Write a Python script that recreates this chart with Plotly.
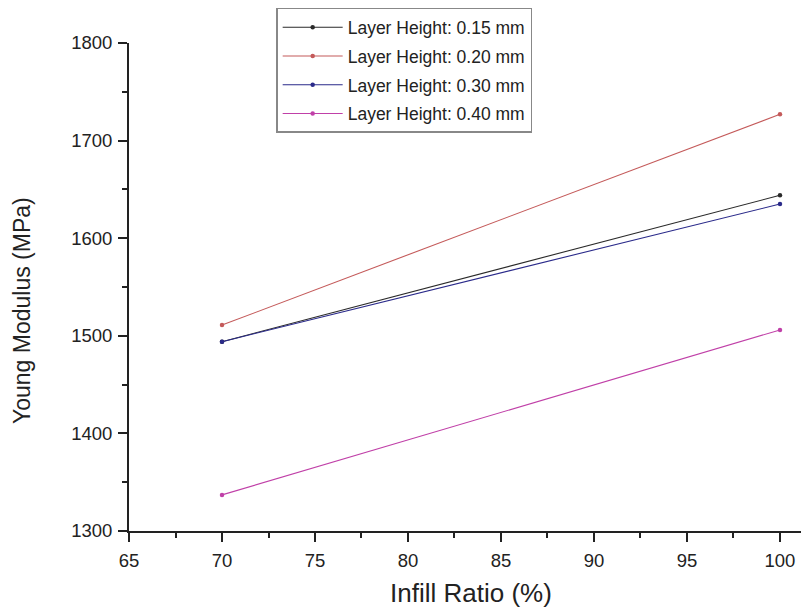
import plotly.graph_objects as go

infill = [70, 100]
series_names = ["Layer Height: 0.15 mm", "Layer Height: 0.20 mm",
                "Layer Height: 0.30 mm", "Layer Height: 0.40 mm"]
lh_015 = [1494, 1644]
lh_020 = [1511, 1727]
lh_030 = [1494, 1635]
lh_040 = [1337, 1506]
colors = ["#2a2a2a", "#c45a5a", "#2a2a8a", "#c040a8"]

FONT = "Liberation Sans, Arial"

fig = go.Figure()
for i, (name, vals, c) in enumerate(zip(series_names, [lh_015, lh_020, lh_030, lh_040], colors)):
    fig.add_trace(go.Scatter(
        x=infill, y=vals, name=name, mode="lines+markers", legendgroup=f"g{i}",
        line=dict(color=c, width=1.1),
        marker=dict(color=c, size=4.5, symbol="circle"),
    ))

axis_common = dict(
    showgrid=False, zeroline=False, showline=True, linecolor="#222222", linewidth=2,
    ticks="outside", ticklen=9, tickwidth=2, tickcolor="#222222",
    tickfont=dict(family=FONT, size=18.5, color="#222222"),
)
minor_common = dict(ticks="outside", ticklen=5, tickwidth=2, tickcolor="#222222")

fig.update_layout(
    width=801, height=612,
    margin=dict(l=129, r=0, t=43, b=81),
    paper_bgcolor="white", plot_bgcolor="white",
    xaxis=dict(range=[65, 101.13], tickmode="linear", tick0=65, dtick=5,
               minor=dict(dtick=2.5, **minor_common), ticklabelstandoff=3,
               **axis_common),
    yaxis=dict(range=[1300, 1800], tickmode="linear", tick0=1300, dtick=100,
               minor=dict(dtick=50, **minor_common), ticklabelstandoff=2,
               **axis_common),
    legend=dict(x=0.219, y=1.072, xanchor="left", yanchor="top",
                bordercolor="#888888", borderwidth=1.5, bgcolor="white",
                font=dict(family=FONT, size=17.5, color="#222222"),
                tracegroupgap=3, itemwidth=60),
    showlegend=True,
    annotations=[
        dict(text="Infill Ratio (%)", xref="paper", yref="paper",
             x=(471 - 129) / 672, y=(531 - 593) / 488, xanchor="center", yanchor="middle",
             showarrow=False, font=dict(family=FONT, size=26, color="#222222")),
        dict(text="Young Modulus (MPa)", xref="paper", yref="paper", textangle=-90,
             x=(22 - 129) / 672, y=(531 - 311) / 488, xanchor="center", yanchor="middle",
             showarrow=False, font=dict(family=FONT, size=23, color="#222222")),
    ],
)

fig.write_html("out.html")
